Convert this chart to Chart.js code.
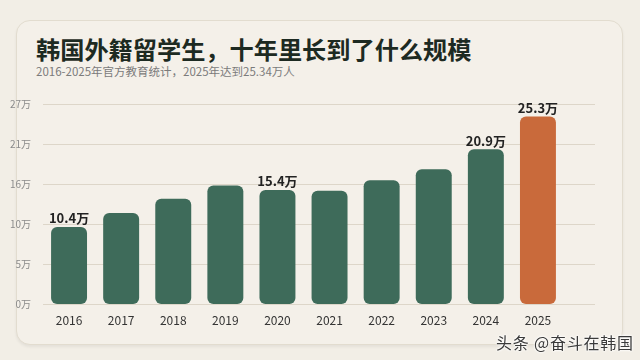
<!DOCTYPE html>
<html>
<head>
<meta charset="utf-8">
<script src="https://cdn.jsdelivr.net/npm/chart.js@4"></script>
<style>
  body { margin: 0; width: 640px; height: 360px; overflow: hidden; position: relative; background: #f2eee6; font-family: "Noto Sans CJK SC", sans-serif; }
  .card { position: absolute; left: 16px; top: 20px; width: 605px; height: 323px; border: 1px solid #e2dccf; border-radius: 14px; background: #f4f0e9; box-shadow: 0 2px 3px rgba(0,0,0,0.06); }
  .title { position: absolute; left: 36px; top: 34px; font-size: 24.2px; font-weight: 700; line-height: 30px; color: #1d2a22; white-space: nowrap; }
  .sub { position: absolute; left: 36px; top: 63px; font-size: 11.5px; line-height: 16px; color: #7b7b7b; white-space: nowrap; }
  .mark { position: absolute; left: 496px; top: 332px; font-size: 16px; letter-spacing: 0.8px; line-height: 20px; color: #3a3a3a; white-space: nowrap;
          text-shadow: 0 0 2px #fff, 0 0 2px #fff, 0 0 3px #fff; }
  canvas { position: absolute; left: 0; top: 0; }
</style>
</head>
<body>
<div class="card"></div>
<div class="title">韩国外籍留学生，十年里长到了什么规模</div>
<div class="sub">2016-2025年官方教育统计，2025年达到25.34万人</div>
<canvas id="bars" width="640" height="360"></canvas>
<div class="mark">头条 @奋斗在韩国</div>
<script>
// data (万人)
const years = ["2016", "2017", "2018", "2019", "2020", "2021", "2022", "2023", "2024", "2025"];
const students = [10.4, 12.3, 14.2, 16.0, 15.4, 15.3, 16.7, 18.2, 20.9, 25.3];
const labeled = [true, false, false, false, true, false, false, false, true, true];
const yTickLabels = ["0万", "5万", "10万", "16万", "21万", "27万"];

const green = "#3e6b5a";
const orange = "#c96a3b";
const gridColor = "#ddd6c9";

// horizontal grid lines run past the last bar
const gridPlugin = {
  id: "longGrid",
  beforeDatasetsDraw(chart) {
    const ctx = chart.ctx;
    const y = chart.scales.y;
    ctx.save();
    ctx.strokeStyle = gridColor;
    ctx.lineWidth = 1;
    y.ticks.forEach(t => {
      const py = Math.round(y.getPixelForValue(t.value)) + 0.5;
      ctx.beginPath();
      ctx.moveTo(chart.chartArea.left, py);
      ctx.lineTo(595, py);
      ctx.stroke();
    });
    ctx.restore();
  }
};

// value labels above some bars
const valuePlugin = {
  id: "values",
  afterDatasetsDraw(chart) {
    const ctx = chart.ctx;
    const meta = chart.getDatasetMeta(0);
    ctx.save();
    ctx.font = "bold 13px 'Noto Sans CJK SC'";
    ctx.fillStyle = "#222";
    ctx.textAlign = "center";
    ctx.textBaseline = "bottom";
    meta.data.forEach((bar, i) => {
      if (!labeled[i]) return;
      ctx.fillText(students[i].toFixed(1) + "万", bar.x, bar.y - 2);
    });
    ctx.restore();
  }
};

new Chart(document.getElementById("bars").getContext("2d"), {
  type: "bar",
  data: {
    labels: years,
    datasets: [{
      data: students,
      backgroundColor: years.map((y, i) => i === years.length - 1 ? orange : green),
      borderRadius: 6,
      borderSkipped: false,
      categoryPercentage: 1,
      barPercentage: 0.69
    }]
  },
  options: {
    responsive: false,
    animation: false,
    layout: { padding: { left: 8, top: 104, right: 76, bottom: 0 } },
    plugins: { legend: { display: false }, tooltip: { enabled: false } },
    scales: {
      x: {
        grid: { display: false, drawTicks: false },
        border: { display: false },
        ticks: { padding: 9, color: "#333", font: { size: 12, family: "Noto Sans CJK SC" } },
        afterFit: s => { s.height = 56; }
      },
      y: {
        min: 0,
        max: 27,
        grid: { display: false, drawTicks: false },
        border: { display: false },
        ticks: {
          count: 6,
          padding: 12,
          color: "#8a8a8a",
          font: { size: 10, family: "Noto Sans CJK SC" },
          callback: (v, i) => yTickLabels[i]
        },
        afterFit: s => { s.width = 35; }
      }
    }
  },
  plugins: [gridPlugin, valuePlugin]
});
</script>
</body>
</html>
